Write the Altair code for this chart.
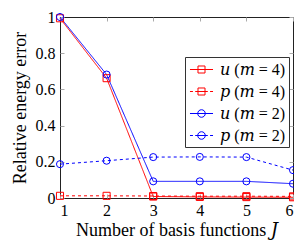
import altair as alt
import pandas as pd

J = [1, 2, 3, 4, 5, 6]
u_m4 = [0.993, 0.662, 0.008, 0.006, 0.005, 0.004]
p_m4 = [0.012, 0.012, 0.011, 0.010, 0.010, 0.009]
u_m2 = [1.0, 0.682, 0.092, 0.092, 0.092, 0.079]
p_m2 = [0.187, 0.206, 0.226, 0.227, 0.226, 0.154]

series_names = ["𝑢 (𝑚 = 4)", "𝑝 (𝑚 = 4)", "𝑢 (𝑚 = 2)", "𝑝 (𝑚 = 2)"]
series_values = [u_m4, p_m4, u_m2, p_m2]
series_var = ["u", "p", "u", "p"]
series_m = ["4", "4", "2", "2"]
markers = ["square", "square", "circle", "circle"]
colors = ["#ff0000", "#ff0000", "#0000ff", "#0000ff"]
m_domain = ["4", "2"]
m_colors = ["#ff0000", "#0000ff"]
var_domain = ["u", "p"]
var_dashes = [[1, 0], [3, 3]]
y_ticks = [0, 0.2, 0.4, 0.6, 0.8, 1.0]

SQ = "M-0.39,-0.39H0.39V0.39H-0.39Z"
CI = "M0.42,0A0.42,0.42 0 1,1 -0.42,0A0.42,0.42 0 1,1 0.42,0Z"
SOLID = "M-1.28,0H1.28"
DASHED = "M-1.28,0H-0.95M-0.7,0H0.7M0.95,0H1.28"
legend_paths = [SOLID + SQ, DASHED + SQ, SOLID + CI, DASHED + CI]

rows = []
for name, vals, mk, var, m in zip(series_names, series_values, markers, series_var, series_m):
    for j, v in zip(J, vals):
        rows.append({"J": j, "err": v, "series": name, "marker": mk, "var": var, "m": m})
df = pd.DataFrame(rows)

W, H = 233, 181
FONT = "'Liberation Serif', 'Times New Roman', 'DejaVu Serif', serif"

x_enc = alt.X(
    "J:Q",
    scale=alt.Scale(domain=[1, 6], nice=False, zero=False),
    axis=alt.Axis(
        values=J, format="d", title="Number of basis functions 𝐽",
        grid=True, gridDash=[4, H - 8], gridColor="#aaaaaa", gridWidth=1,
        ticks=False, domain=False, labelPadding=4, titlePadding=3,
    ),
)
y_enc = alt.Y(
    "err:Q",
    scale=alt.Scale(domain=[0, 1], nice=False),
    axis=alt.Axis(
        values=y_ticks, format="~g", title="Relative energy error",
        grid=True, gridDash=[4, W - 8], gridColor="#aaaaaa", gridWidth=1,
        ticks=False, domain=False, labelPadding=5, titlePadding=6,
    ),
)
stroke_enc = alt.Stroke("m:N", scale=alt.Scale(domain=m_domain, range=m_colors), legend=None)

base = alt.Chart(df)

leg = alt.Legend(
    title=None, orient="none", legendX=W - 108, legendY=40,
    padding=3, fillColor="white", strokeColor="#333333",
    labelFont=FONT, labelFontSize=16, labelColor="black",
    symbolSize=324, symbolStrokeWidth=1, symbolOffset=4, labelOffset=9, rowPadding=4,
)
legend_layer = base.transform_filter("datum.J < 0").mark_point(
    filled=False, strokeWidth=1, opacity=1
).encode(
    x=x_enc, y=y_enc,
    color=alt.Color("series:N", scale=alt.Scale(domain=series_names, range=colors), legend=leg),
    shape=alt.Shape("series:N", scale=alt.Scale(domain=series_names, range=legend_paths), legend=leg),
)

lines = base.mark_line(strokeWidth=1).encode(
    x=x_enc, y=y_enc,
    stroke=stroke_enc,
    strokeDash=alt.StrokeDash("var:N", scale=alt.Scale(domain=var_domain, range=var_dashes), legend=None),
    detail="series:N",
)
squares = base.transform_filter("datum.marker == 'square'").mark_point(
    shape="square", filled=False, size=50, strokeWidth=1, opacity=1
).encode(x=x_enc, y=y_enc, stroke=stroke_enc)
circles = base.transform_filter("datum.marker == 'circle'").mark_point(
    shape="circle", filled=False, size=50, strokeWidth=1, opacity=1
).encode(x=x_enc, y=y_enc, stroke=stroke_enc)

chart = alt.layer(legend_layer, lines, squares, circles).properties(
    width=W, height=H,
    autosize=alt.AutoSizeParams(type="none"),
    padding={"left": 52, "top": 9, "right": 1, "bottom": 42},
).configure_view(stroke="#222222", strokeWidth=1).configure_axis(
    labelFont=FONT, titleFont=FONT, labelFontSize=16, titleFontSize=18,
    titleFontWeight="normal", labelColor="black", titleColor="black",
)

chart.save("out.html", embed_options={"renderer": "svg", "actions": False})
